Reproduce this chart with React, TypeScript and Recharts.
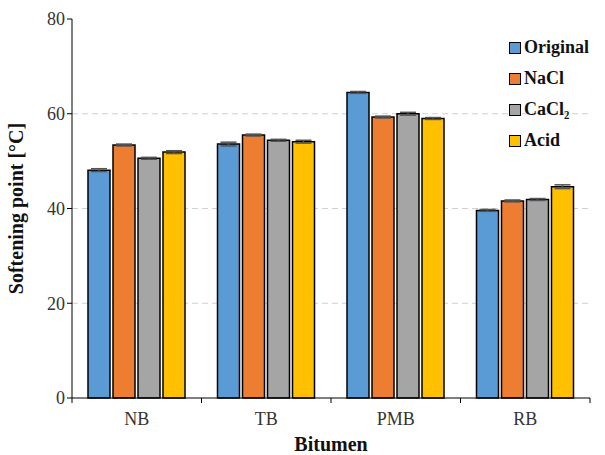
import React from 'react';
import {
  BarChart,
  Bar,
  XAxis,
  YAxis,
  CartesianGrid,
  ErrorBar,
} from 'recharts';

const categories = ['NB', 'TB', 'PMB', 'RB'];
const original = [48.1, 53.6, 64.5, 39.6];
const nacl = [53.4, 55.5, 59.3, 41.6];
const cacl2 = [50.6, 54.4, 60.0, 41.9];
const acid = [51.9, 54.1, 59.0, 44.6];
const originalErr = [0.3, 0.4, 0.2, 0.2];
const naclErr = [0.2, 0.2, 0.2, 0.2];
const cacl2Err = [0.2, 0.2, 0.3, 0.2];
const acidErr = [0.3, 0.3, 0.2, 0.4];
const yTicks = [0, 20, 40, 60, 80];

const series = [
  { key: 'original', name: 'Original', color: '#5B9BD5' },
  { key: 'nacl', name: 'NaCl', color: '#ED7D31' },
  { key: 'cacl2', name: 'CaCl₂', color: '#A5A5A5' },
  { key: 'acid', name: 'Acid', color: '#FFC000' },
];

const data = categories.map((c, i) => ({
  name: c,
  original: original[i],
  nacl: nacl[i],
  cacl2: cacl2[i],
  acid: acid[i],
  originalErr: originalErr[i],
  naclErr: naclErr[i],
  cacl2Err: cacl2Err[i],
  acidErr: acidErr[i],
}));

const FONT = '"Liberation Serif", "Times New Roman", serif';

const CategoryTick = ({ x, y, payload, index, bandSize }: any) => {
  const half = bandSize / 2;
  return (
    <g>
      <line x1={x - half} y1={y - 8} x2={x - half} y2={y - 3} stroke="#000" strokeWidth={1} />
      {index === categories.length - 1 && (
        <line x1={x + half} y1={y - 8} x2={x + half} y2={y - 3} stroke="#000" strokeWidth={1} />
      )}
      <text x={x} y={y + 19} textAnchor="middle" fontFamily={FONT} fontSize={18} fill="#333">
        {payload.value}
      </text>
    </g>
  );
};

// legend drawn as an overlay so it doesn't shrink the plot area
const LegendBox = () => (
  <div
    style={{
      position: 'absolute',
      left: 509,
      top: 32,
      fontFamily: FONT,
      fontWeight: 'bold',
      fontSize: 18,
      color: '#111',
    }}
  >
    {series.map((s) => (
      <div key={s.key} style={{ display: 'flex', alignItems: 'center', height: 31 }}>
        <span
          style={{
            display: 'inline-block',
            width: 10,
            height: 10,
            background: s.color,
            border: '1.5px solid #000',
            marginRight: 3,
          }}
        />
        <span>{s.name}</span>
      </div>
    ))}
  </div>
);

const App: React.FC = () => {
  const plotLeft = 72;
  const plotRight = 590;
  const bandSize = (plotRight - plotLeft) / categories.length;

  return (
    <div style={{ position: 'absolute', left: 0, top: 0, width: 605, height: 455, background: '#fff' }}>
      <BarChart
        width={605}
        height={455}
        data={data}
        margin={{ top: 19, right: 605 - plotRight, left: 0, bottom: 0 }}
        barCategoryGap={16}
        barGap={3}
      >
        <CartesianGrid
          vertical={false}
          stroke="#D0D0D0"
          strokeDasharray="6 4"
          horizontalValues={[20, 40, 60]}
        />
        <XAxis
          dataKey="name"
          height={57}
          axisLine={{ stroke: '#000', strokeWidth: 1 }}
          tickLine={false}
          tick={<CategoryTick bandSize={bandSize} />}
          label={{
            value: 'Bitumen',
            position: 'insideBottom',
            offset: 4,
            style: { fontFamily: FONT, fontWeight: 'bold', fontSize: 20, fill: '#111' },
          }}
        />
        <YAxis
          width={plotLeft}
          domain={[0, 80]}
          ticks={yTicks}
          interval={0}
          axisLine={{ stroke: '#000', strokeWidth: 1 }}
          tickLine={{ stroke: '#000' }}
          tickSize={5}
          tick={{ fontFamily: FONT, fontSize: 18, fill: '#333' }}
          label={{
            value: 'Softening point [°C]',
            angle: -90,
            position: 'insideLeft',
            offset: 16,
            style: { textAnchor: 'middle', fontFamily: FONT, fontWeight: 'bold', fontSize: 20, fill: '#111' },
          }}
        />
        {series.map((s) => (
          <Bar
            key={s.key}
            dataKey={s.key}
            name={s.name}
            fill={s.color}
            stroke="#000"
            strokeWidth={1.5}
            isAnimationActive={false}
          >
            <ErrorBar dataKey={`${s.key}Err`} width={8} stroke="#555" strokeWidth={1.5} direction="y" />
          </Bar>
        ))}
      </BarChart>
      <LegendBox />
    </div>
  );
};

export default App;
